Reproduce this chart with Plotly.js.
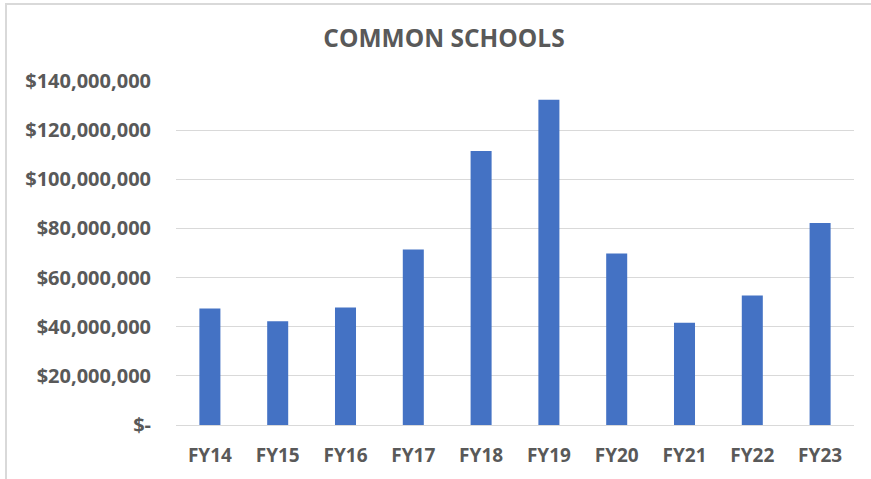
<!DOCTYPE html>
<html>
<head>
<meta charset="utf-8">
<script src="https://cdn.plot.ly/plotly-3.0.1.min.js"></script>
<style>
html,body{margin:0;padding:0;background:#fff;overflow:hidden;}
#chart{position:absolute;left:0;top:0;width:871px;height:479px;}
#frame{position:absolute;left:5px;top:3px;width:900px;height:520px;border:2px solid #d9d9d9;pointer-events:none;box-sizing:border-box;}
</style>
</head>
<body>
<div id="chart"></div>
<div id="frame"></div>
<script>
const categories = ["FY14","FY15","FY16","FY17","FY18","FY19","FY20","FY21","FY22","FY23"];
const values = [47400000, 42200000, 47800000, 71400000, 111500000, 132400000, 69800000, 41600000, 52700000, 82200000];
const yTickVals = [0, 20000000, 40000000, 60000000, 80000000, 100000000, 120000000, 140000000];
const yTickText = ["$-", "$20,000,000", "$40,000,000", "$60,000,000", "$80,000,000", "$100,000,000", "$120,000,000", "$140,000,000"];
const titleText = "COMMON SCHOOLS";

const fontFam = "'Open Sans', 'Noto Sans', sans-serif";
const txtColor = "#595959";

Plotly.newPlot("chart", [{
  type: "bar",
  x: categories,
  y: values,
  marker: {color: "#4472C4"},
  hoverinfo: "x+y"
}], {
  width: 871,
  height: 479,
  paper_bgcolor: "#ffffff",
  plot_bgcolor: "#ffffff",
  margin: {l: 176, r: 17, t: 81, b: 54, pad: 0},
  bargap: 0.69,
  showlegend: false,
  title: {
    text: titleText,
    font: {family: fontFam, size: 24.5, color: txtColor, weight: "bold"},
    xref: "container", x: 444/871, xanchor: "center",
    yref: "container", y: 1 - 38/479, yanchor: "middle"
  },
  xaxis: {
    type: "category",
    showgrid: false,
    showline: true,
    linecolor: "#d9d9d9",
    linewidth: 1,
    ticks: "",
    ticklabelstandoff: 13,
    tickfont: {family: fontFam, size: 19, color: txtColor, weight: "bold"}
  },
  yaxis: {
    range: [0, 140000000],
    tickmode: "array",
    tickvals: yTickVals,
    ticktext: yTickText,
    showgrid: true,
    gridcolor: "#d9d9d9",
    gridwidth: 1,
    zeroline: false,
    showline: false,
    ticks: "",
    ticklabelstandoff: 24,
    tickfont: {family: fontFam, size: 20, color: txtColor, weight: "bold"}
  }
}, {staticPlot: true});
</script>
</body>
</html>
